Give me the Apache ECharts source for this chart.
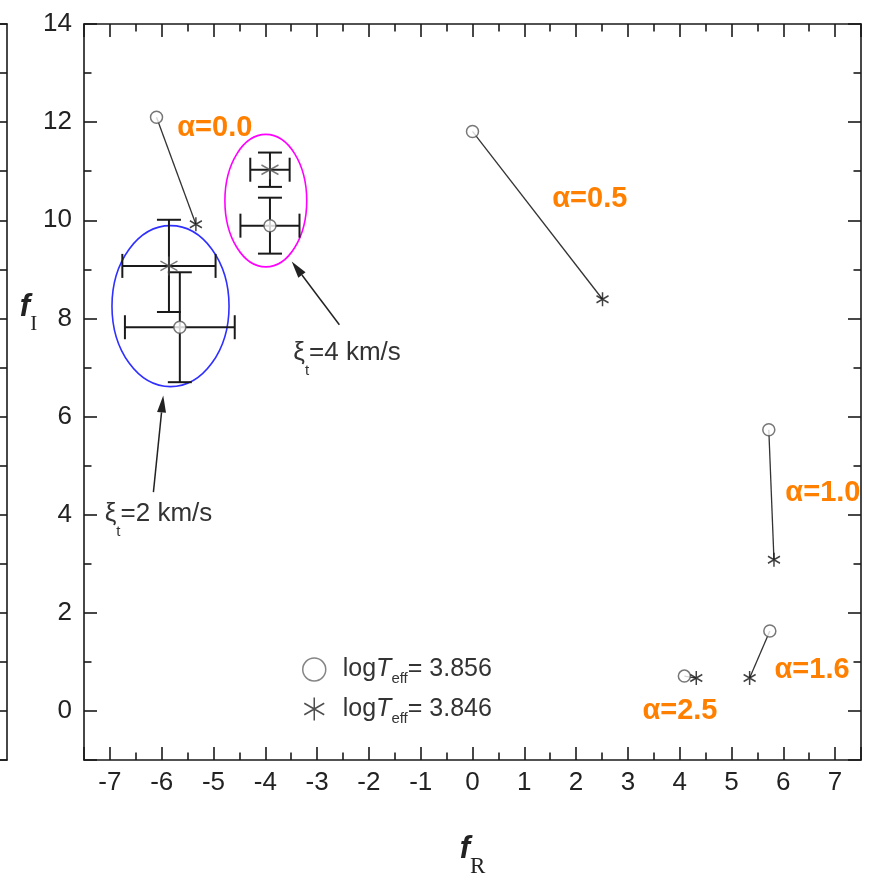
<!DOCTYPE html>
<html><head><meta charset="utf-8">
<script src="https://cdn.jsdelivr.net/npm/echarts@6/dist/echarts.min.js"></script>
<style>html,body{margin:0;padding:0;background:#fff}#c{width:875px;height:882px}</style>
</head><body><div id="c"></div>
<script>
// ---- data ----
const alphaLabels = ['α=0.0', 'α=0.5', 'α=1.0', 'α=1.6', 'α=2.5'];
const hotX  = [-6.10, 0.00, 5.72, 5.74, 4.09];   // logTeff = 3.856 (open circles)
const hotY  = [12.10, 11.81, 5.73, 1.63, 0.71];
const coolX = [-5.34, 2.51, 5.82, 5.35, 4.32];   // logTeff = 3.846 (asterisks)
const coolY = [9.92, 8.39, 3.08, 0.67, 0.67];
const alphaLabelX = [-5.70, 1.54, 6.04, 5.83, 3.28];
const alphaLabelY = [11.89, 10.43, 4.44, 0.84, 0.00];

// microturbulence groups: [xi_t = 2 km/s, xi_t = 4 km/s]
const turbLabels = ['2', '4'];
const errHotX = [-5.65, -3.91], errHotY = [7.82, 9.89];
const errHotXErr = [1.06, 0.57], errHotYErr = [1.12, 0.57];
const errCoolX = [-5.86, -3.91], errCoolY = [9.07, 11.03];
const errCoolXErr = [0.90, 0.38], errCoolYErr = [0.94, 0.35];
const ellipseCX = [-5.83, -3.99], ellipseCY = [8.25, 10.40];
const ellipseRX = [1.13, 0.79], ellipseRY = [1.64, 1.35];
const ellipseColors = ['#2f2fff', '#ff00ff'];
const turbLabelX = [-7.10, -3.46], turbLabelY = [4.01, 7.29];
const arrowTailX = [-6.16, -2.57], arrowTailY = [4.46, 7.87];
const arrowTipX = [-5.97, -3.49], arrowTipY = [6.43, 9.16];

const legendNames = ['3.856', '3.846'];
const xMin = -7.5, xMax = 7.5, xStep = 1;
const yMin = -1, yMax = 14, yStep = 2;

// ---- styling ----
const ink = '#1a1a1a';
const starPath = 'path://M0,-10L0,10M-8.66,-5L8.66,5M-8.66,5L8.66,-5';
const sans = '"Liberation Sans", Arial, sans-serif';
const orange = '#ff8000';

function frameAxis(extra) {
  return Object.assign({
    type: 'value',
    axisLine: { show: true, onZero: false, lineStyle: { color: ink, width: 1.6 } },
    axisTick: { show: true, inside: true, length: 13, lineStyle: { color: ink, width: 1.6 } },
    minorTick: { show: true, splitNumber: 2, length: 7.5, lineStyle: { color: ink, width: 1.6 } },
    splitLine: { show: false }, minorSplitLine: { show: false },
    axisLabel: { show: false }
  }, extra);
}
const xCommon = { min: xMin, max: xMax, minInterval: xStep, maxInterval: xStep, splitNumber: 15, gridIndex: 0 };
const yCommon = { min: yMin, max: yMax, minInterval: yStep, maxInterval: yStep, splitNumber: 7, gridIndex: 0 };

const series = [];
// connecting lines for each alpha pair
for (let i = 0; i < alphaLabels.length; i++) {
  series.push({
    type: 'line', name: 'pair' + i, xAxisIndex: 0, yAxisIndex: 0,
    data: [[hotX[i], hotY[i]], [coolX[i], coolY[i]]],
    showSymbol: false, symbol: 'none', silent: true, z: 2,
    lineStyle: { color: '#333', width: 1.3 }
  });
}
// ellipses
series.push({
  type: 'custom', name: 'ellipses', xAxisIndex: 0, yAxisIndex: 0, silent: true, z: 2,
  data: ellipseCX.map((v, i) => [v, ellipseCY[i], ellipseRX[i], ellipseRY[i]]),
  renderItem(params, api) {
    const c = api.coord([api.value(0), api.value(1)]);
    const s = api.size([api.value(2), api.value(3)]);
    return { type: 'ellipse', shape: { cx: c[0], cy: c[1], rx: s[0], ry: s[1] },
      style: { fill: 'none', stroke: ellipseColors[params.dataIndex], lineWidth: 1.6 } };
  }
});
// error bars
const errData = errHotX.map((v, i) => [v, errHotY[i], errHotXErr[i], errHotYErr[i]])
  .concat(errCoolX.map((v, i) => [v, errCoolY[i], errCoolXErr[i], errCoolYErr[i]]));
series.push({
  type: 'custom', name: 'errorbars', xAxisIndex: 0, yAxisIndex: 0, silent: true, z: 3,
  data: errData,
  renderItem(params, api) {
    const x = api.value(0), y = api.value(1), ex = api.value(2), ey = api.value(3);
    const l = api.coord([x - ex, y]), r = api.coord([x + ex, y]);
    const t = api.coord([x, y + ey]), b = api.coord([x, y - ey]);
    const cap = 12, st = { stroke: ink, lineWidth: 2 };
    const ln = (x1, y1, x2, y2) => ({ type: 'line', shape: { x1, y1, x2, y2 }, style: st });
    return { type: 'group', children: [
      ln(l[0], l[1], r[0], r[1]), ln(t[0], t[1], b[0], b[1]),
      ln(l[0], l[1] - cap, l[0], l[1] + cap), ln(r[0], r[1] - cap, r[0], r[1] + cap),
      ln(t[0] - cap, t[1], t[0] + cap, t[1]), ln(b[0] - cap, b[1], b[0] + cap, b[1])
    ] };
  }
});
// arrows
series.push({
  type: 'custom', name: 'arrows', xAxisIndex: 0, yAxisIndex: 0, silent: true, z: 3,
  data: arrowTailX.map((v, i) => [v, arrowTailY[i], arrowTipX[i], arrowTipY[i]]),
  renderItem(params, api) {
    const a = api.coord([api.value(0), api.value(1)]);
    const b = api.coord([api.value(2), api.value(3)]);
    const dx = b[0] - a[0], dy = b[1] - a[1], L = Math.hypot(dx, dy);
    const ux = dx / L, uy = dy / L, hl = 17, hw = 4.5;
    const bx = b[0] - ux * hl, by = b[1] - uy * hl;
    return { type: 'group', children: [
      { type: 'line', shape: { x1: a[0], y1: a[1], x2: bx, y2: by }, style: { stroke: '#222', lineWidth: 1.5 } },
      { type: 'polygon', shape: { points: [[b[0], b[1]], [bx - uy * hw, by + ux * hw], [bx + uy * hw, by - ux * hw]] },
        style: { fill: '#222' } }
    ] };
  }
});
// markers
series.push({
  type: 'scatter', name: 'hot', xAxisIndex: 0, yAxisIndex: 0, z: 5,
  data: hotX.map((v, i) => [v, hotY[i]]).concat(errHotX.map((v, i) => [v, errHotY[i]])),
  symbol: 'circle', symbolSize: 12,
  itemStyle: { color: '#fff', borderColor: '#555', borderWidth: 1.5 }
});
series.push({
  type: 'scatter', name: 'cool', xAxisIndex: 0, yAxisIndex: 0, z: 5,
  data: coolX.map((v, i) => [v, coolY[i]]),
  symbol: starPath, symbolSize: [12, 14],
  itemStyle: { color: '#111', borderColor: '#111', borderWidth: 1.6 }
});
series.push({
  type: 'scatter', name: 'coolErr', xAxisIndex: 0, yAxisIndex: 0, z: 5,
  data: errCoolX.map((v, i) => [v, errCoolY[i]]),
  symbol: starPath, symbolSize: [17, 19],
  itemStyle: { color: '#555', borderColor: '#555', borderWidth: 1.5 }
});
// alpha labels
series.push({
  type: 'custom', name: 'alphaLabels', xAxisIndex: 0, yAxisIndex: 0, silent: true, z: 6,
  data: alphaLabelX.map((v, i) => [v, alphaLabelY[i]]),
  renderItem(params, api) {
    const c = api.coord([api.value(0), api.value(1)]);
    return { type: 'text', x: c[0], y: c[1],
      style: { text: alphaLabels[params.dataIndex], fill: orange, font: 'bold 29px ' + sans,
        align: 'left', verticalAlign: 'middle' } };
  }
});
// xi_t labels
series.push({
  type: 'custom', name: 'turbLabels', xAxisIndex: 0, yAxisIndex: 0, silent: true, z: 6,
  data: turbLabelX.map((v, i) => [v, turbLabelY[i]]),
  renderItem(params, api) {
    const c = api.coord([api.value(0), api.value(1)]);
    return { type: 'text', x: c[0], y: c[1],
      style: { text: '{g|ξ}{s|t}{g|=' + turbLabels[params.dataIndex] + ' km/s}',
        align: 'left', verticalAlign: 'middle',
        rich: {
          g: { fontFamily: sans, fontSize: 26, lineHeight: 50, fill: '#333' },
          s: { fontFamily: sans, fontSize: 15, lineHeight: 50, verticalAlign: 'bottom', fill: '#333' }
        } } };
  }
});

const legendRich = {
  a: { fontFamily: sans, fontSize: 25, lineHeight: 34, color: '#333' },
  i: { fontFamily: sans, fontSize: 25, fontStyle: 'italic', lineHeight: 34, color: '#333' },
  s: { fontFamily: sans, fontSize: 15, lineHeight: 34, verticalAlign: 'bottom', color: '#333' }
};

const option = {
  animation: false,
  backgroundColor: '#fff',
  grid: [
    { left: 84, right: 14, top: 24, bottom: 122, containLabel: false, outerBoundsMode: 'none' },
    { left: 0, width: 7, top: 24, bottom: 122, containLabel: false, outerBoundsMode: 'none' }
  ],
  legend: {
    orient: 'vertical', left: 297, top: 652, itemGap: 10, itemWidth: 23, itemHeight: 23,
    selectedMode: false,
    data: [
      { name: 'hot', icon: 'circle', itemStyle: { color: '#fff', borderColor: '#666', borderWidth: 1.5 } },
      { name: 'cool', icon: starPath, itemStyle: { color: '#222', borderColor: '#222', borderWidth: 1.5 } }
    ],
    formatter: name => '{a|log}{i|T}{s|eff}{a|= ' + (name === 'hot' ? legendNames[0] : legendNames[1]) + '}',
    textStyle: { rich: legendRich, padding: [0, 0, 0, 12] }
  },
  xAxis: [
    frameAxis(Object.assign({}, xCommon, {
      position: 'bottom',
      axisLabel: { show: true, margin: 10, color: '#222', fontFamily: sans, fontSize: 26,
        formatter: v => Number.isInteger(v) ? String(v) : '' },
      name: '{f|f}{s|R}', nameLocation: 'middle', nameGap: 60,
      nameTextStyle: { rich: {
        f: { fontFamily: sans, fontWeight: 'bold', fontStyle: 'italic', fontSize: 31, lineHeight: 58, color: '#222' },
        s: { fontFamily: '"Liberation Serif", serif', fontSize: 23, lineHeight: 58, verticalAlign: 'bottom', color: '#222' }
      } }
    })),
    frameAxis(Object.assign({}, xCommon, { position: 'top' })),
    { type: 'value', gridIndex: 1, min: 0, max: 1, position: 'bottom',
      axisLine: { show: true, onZero: false, lineStyle: { color: ink, width: 1.6 } },
      axisTick: { show: false }, axisLabel: { show: false }, splitLine: { show: false } },
    { type: 'value', gridIndex: 1, min: 0, max: 1, position: 'top',
      axisLine: { show: true, onZero: false, lineStyle: { color: ink, width: 1.6 } },
      axisTick: { show: false }, axisLabel: { show: false }, splitLine: { show: false } }
  ],
  yAxis: [
    frameAxis(Object.assign({}, yCommon, {
      position: 'left',
      axisLabel: { show: true, margin: 12, color: '#222', fontFamily: sans, fontSize: 26,
        formatter: v => (v % yStep === 0) ? String(v) : '' },
      name: '{f|f}{s|I}', nameLocation: 'middle', nameRotate: 0, nameGap: 44,
      nameTextStyle: { padding: [0, 0, 170, 0], rich: {
        f: { fontFamily: sans, fontWeight: 'bold', fontStyle: 'italic', fontSize: 31, lineHeight: 56, color: '#222' },
        s: { fontFamily: '"Liberation Serif", serif', fontSize: 21, lineHeight: 56, verticalAlign: 'bottom', color: '#222' }
      } }
    })),
    frameAxis(Object.assign({}, yCommon, { position: 'right' })),
    frameAxis(Object.assign({}, yCommon, { gridIndex: 1, position: 'right' }))
  ],
  series: series
};

const chart = echarts.init(document.getElementById('c'), null, { renderer: 'canvas' });
chart.setOption(option);
</script>
</body></html>
